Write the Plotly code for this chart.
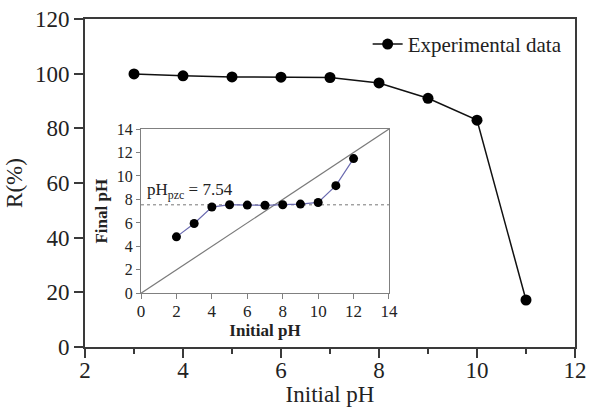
import plotly.graph_objects as go

# Removal efficiency vs. initial pH
ph_initial = [3, 4, 5, 6, 7, 8, 9, 10, 11]
removal_pct = [99.9, 99.2, 98.8, 98.7, 98.6, 96.6, 91.0, 83.0, 17.2]

# Point of zero charge determination (inset)
pzc_initial = [2, 3, 4, 5, 6, 7, 8, 9, 10, 11, 12]
pzc_final = [4.81, 5.95, 7.35, 7.55, 7.52, 7.50, 7.55, 7.6, 7.74, 9.17, 11.48]
ph_pzc = 7.54
diag = [0, 14]

main_x_ticks = [2, 4, 6, 8, 10, 12]
main_y_ticks = [0, 20, 40, 60, 80, 100, 120]
inset_ticks = [0, 2, 4, 6, 8, 10, 12, 14]

FONT = "Liberation Serif"
AX = "#3a3a3a"
INSET_AX = "#808080"

fig = go.Figure()

fig.add_trace(go.Scatter(
    x=ph_initial, y=removal_pct, mode="lines+markers",
    name="Experimental data",
    line=dict(color="#111111", width=1.5),
    marker=dict(color="#000000", size=11),
))

# inset: y = x reference line
fig.add_trace(go.Scatter(
    x=diag, y=diag, mode="lines", xaxis="x2", yaxis="y2",
    line=dict(color="#7a7a7a", width=1.2), showlegend=False,
))
# inset: pH_pzc level
fig.add_trace(go.Scatter(
    x=diag, y=[ph_pzc, ph_pzc], mode="lines", xaxis="x2", yaxis="y2",
    line=dict(color="#777777", width=1, dash="dot"), showlegend=False,
))
fig.add_trace(go.Scatter(
    x=pzc_initial, y=pzc_final, mode="lines+markers", xaxis="x2", yaxis="y2",
    line=dict(color="#6b6bb0", width=1.2),
    marker=dict(color="#000000", size=9), showlegend=False,
))

fig.add_annotation(
    x=0.2, y=8.75, xref="x2", yref="y2", xanchor="left", yanchor="middle",
    text="pH<sub>pzc</sub> = 7.54", showarrow=False,
    font=dict(family=FONT, size=17, color="#222222"),
)

fig.update_layout(
    width=589, height=410,
    margin=dict(l=85, r=14, t=19, b=63),
    plot_bgcolor="white", paper_bgcolor="white",
    font=dict(family=FONT, color="#222222"),
    showlegend=True,
    legend=dict(x=0.985, y=0.985, xanchor="right", yanchor="top",
                bgcolor="rgba(0,0,0,0)", font=dict(family=FONT, size=21)),
    xaxis=dict(
        range=[2, 12], tickvals=main_x_ticks, showgrid=False, zeroline=False,
        showline=True, linecolor=AX, linewidth=1.8, mirror=True, automargin=False,
        ticks="outside", ticklen=9, tickwidth=1.5, tickcolor=AX,
        minor=dict(dtick=1, ticks="outside", ticklen=5, tickwidth=1.5, tickcolor=AX),
        tickfont=dict(size=23), ticklabelstandoff=-8,
        title=dict(text="Initial pH", font=dict(size=23), standoff=2),
    ),
    yaxis=dict(
        range=[0, 120], tickvals=main_y_ticks, showgrid=False, zeroline=False,
        showline=True, linecolor=AX, linewidth=1.8, mirror=True, automargin=False,
        ticks="outside", ticklen=9, tickwidth=1.5, tickcolor=AX,
        tickfont=dict(size=23),
        title=dict(text="R(%)", font=dict(size=23), standoff=6),
    ),
    xaxis2=dict(
        domain=[0.1143, 0.6204], anchor="y2", range=[0, 14], tickvals=inset_ticks,
        showgrid=False, zeroline=False, showline=True, linecolor=INSET_AX,
        linewidth=1.2, mirror=True, ticks="outside", ticklen=5, tickcolor=INSET_AX,
        tickfont=dict(size=17), automargin=False, ticklabelstandoff=-3,
        title=dict(text="<b>Initial pH</b>", font=dict(size=17), standoff=4),
    ),
    yaxis2=dict(
        domain=[0.1637, 0.6646], anchor="x2", range=[0, 14], tickvals=inset_ticks,
        showgrid=False, zeroline=False, showline=True, linecolor=INSET_AX,
        linewidth=1.2, mirror=True, ticks="outside", ticklen=4, tickcolor=INSET_AX,
        tickfont=dict(size=16), automargin=False,
        title=dict(text="<b>Final pH</b>", font=dict(size=17), standoff=4),
    ),
)

fig.write_html("out.html")
